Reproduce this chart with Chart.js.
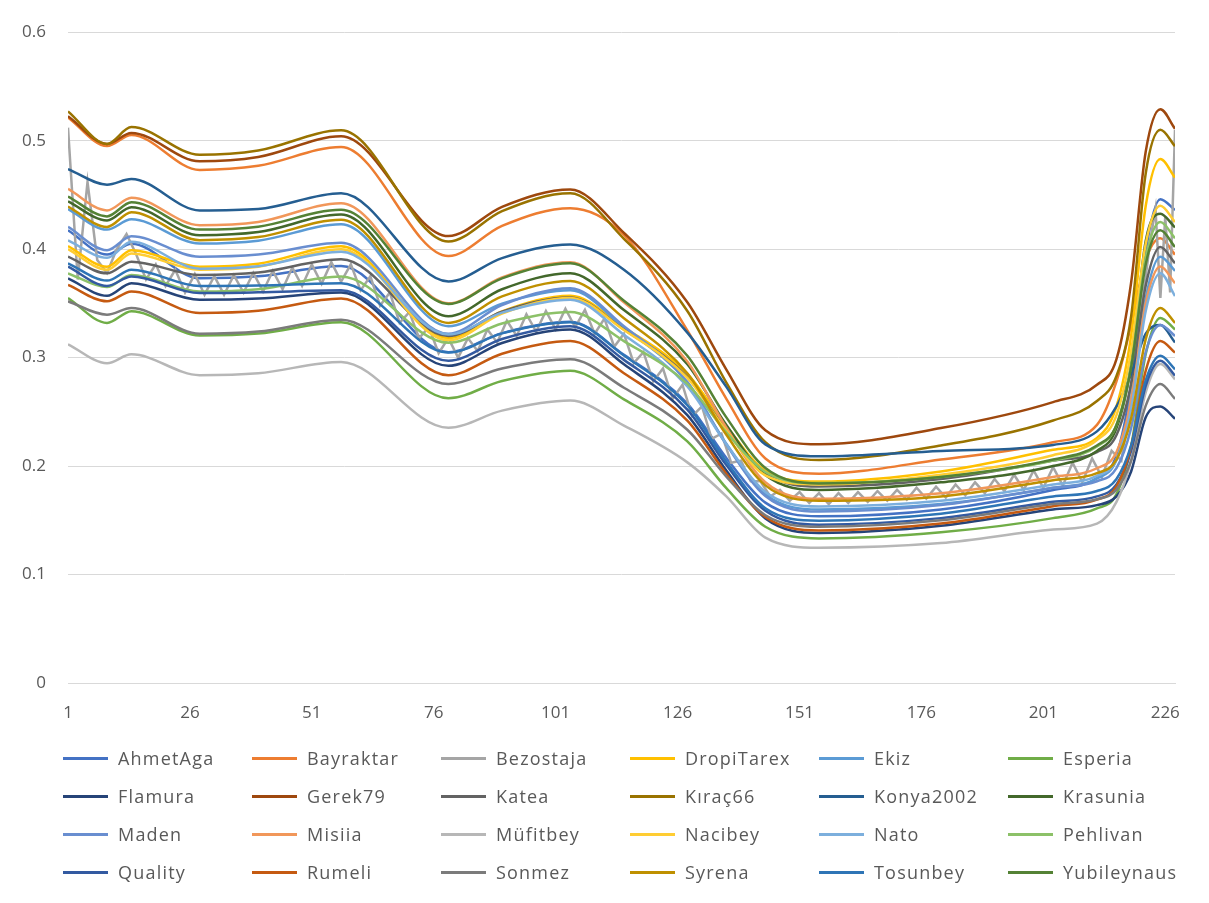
<!DOCTYPE html>
<html>
<head>
<meta charset="utf-8">
<script src="https://cdn.jsdelivr.net/npm/chart.js@4/dist/chart.umd.min.js"></script>
<style>
  body { margin: 0; background: #fff; }
  #wrap { position: relative; width: 1209px; height: 903px; }
  #chart { position: absolute; left: 0; top: 0; }
  .legend-item { position: absolute; height: 24px; display: flex; align-items: center;
    font-family: "Open Sans", "Noto Sans", sans-serif; font-size: 18px; letter-spacing: 1.2px; color: #595959; white-space: nowrap; }
  .legend-swatch { display: inline-block; width: 45px; height: 3px; margin-right: 10px; }
</style>
</head>
<body>
<div id="wrap">
  <canvas id="chart" width="1209" height="903"></canvas>
  <div id="chartLegend"></div>
</div>
<script>
const knots = [1, 9, 14, 28, 40, 57, 79, 90, 104, 115, 128, 136, 144, 155, 180, 203, 212, 216, 219, 222, 225, 228];

const ahmetAga = [.4174, .395, .405, .3732, .375, .3844, .305, .3226, .333, .3025, .2577, .2075, .1663, .1537, .160, .178, .189, .210, .275, .398, .446, .436];
const bayraktar = [.5215, .495, .5052, .473, .4768, .4942, .3936, .4214, .4378, .413, .325, .262, .207, .193, .206, .222, .238, .278, .330, .390, .410, .395];
const dropiTarex = [.4027, .3838, .399, .3838, .3866, .4027, .318, .3426, .357, .3278, .2849, .237, .1957, .1857, .195, .215, .226, .255, .320, .440, .483, .466];
const ekiz = [.437, .418, .4275, .4052, .4078, .4229, .329, .3498, .362, .3277, .2772, .2206, .1741, .160, .165, .180, .1885, .2056, .2567, .3547, .393, .380];
const esperia = [.3549, .332, .3427, .3204, .3222, .3326, .2625, .2784, .2878, .2615, .2228, .1796, .1441, .1333, .139, .152, .161, .1741, .2184, .3034, .3366, .326];
const flamura = [.373, .357, .3686, .3533, .3544, .3601, .2924, .3135, .326, .2938, .2469, .1958, .1517, .1384, .145, .160, .164, .172, .195, .245, .255, .2436];
const gerek79 = [.5225, .497, .507, .481, .485, .504, .412, .439, .455, .415, .351, .289, .233, .220, .235, .259, .275, .2985, .369, .490, .529, .511];
const katea = [.393, .3777, .3884, .3762, .3784, .3906, .320, .3424, .3555, .3259, .2822, .2334, .1933, .1811, .188, .205, .2129, .2286, .2759, .3665, .402, .387];
const kirac66 = [.527, .497, .5125, .487, .491, .5095, .407, .435, .4515, .4095, .343, .277, .222, .2055, .219, .242, .260, .283, .338, .470, .510, .495];
const konya2002 = [.4738, .4594, .4646, .4357, .437, .4515, .3702, .3917, .4043, .381, .323, .273, .220, .209, .214, .2195, .232, .255, .285, .322, .330, .314];
const krasunia = [.444, .4265, .4387, .4128, .4157, .432, .3381, .363, .3777, .3438, .2938, .2378, .1917, .178, .185, .200, .214, .235, .293, .4077, .4326, .420];
const maden = [.4205, .399, .4119, .393, .395, .4058, .322, .3485, .364, .329, .2775, .2198, .1724, .158, .164, .180, .186, .198, .235, .305, .330, .320];
const misiia = [.4555, .4357, .4473, .422, .425, .4424, .350, .3739, .388, .3509, .2964, .2353, .1851, .1698, .175, .190, .198, .213, .260, .350, .384, .3686];
const mufitbey = [.3122, .2948, .303, .2838, .2856, .296, .2353, .2511, .2604, .2373, .2034, .172, .134, .1247, .129, .1415, .147, .167, .205, .268, .294, .280];
const nacibey = [.400, .381, .396, .381, .3838, .400, .316, .3406, .355, .3254, .2813, .2325, .1915, .183, .192, .210, .224, .247, .306, .405, .440, .425];
const nato = [.408, .392, .4067, .382, .3843, .3976, .3213, .3415, .3534, .321, .2734, .2202, .1762, .1628, .168, .183, .191, .206, .253, .343, .3777, .3567];
const pehlivan = [.3777, .365, .3762, .361, .3631, .3747, .3137, .3315, .342, .3152, .2757, .231, .1945, .1843, .190, .205, .218, .238, .293, .392, .425, .410];
const quality = [.3838, .366, .3747, .3595, .3602, .362, .297, .3172, .329, .2979, .2521, .2009, .1588, .146, .152, .167, .172, .183, .214, .274, .297, .2835];
const rumeli = [.367, .3519, .361, .3412, .3432, .3545, .2838, .3036, .3153, .2856, .2419, .1929, .1531, .1406, .147, .163, .169, .1813, .2178, .288, .3153, .3046];
const sonmez = [.3519, .3396, .3457, .322, .324, .335, .2756, .290, .2985, .2722, .2335, .1903, .1547, .144, .150, .165, .1694, .1783, .2049, .2557, .2756, .2619];
const syrena = [.4393, .4205, .4341, .4083, .4111, .4271, .332, .3564, .3707, .3362, .2856, .2288, .1822, .168, .172, .187, .1934, .206, .244, .317, .3457, .332];
const tosunbey = [.3869, .371, .381, .366, .3664, .3686, .3046, .3223, .3326, .3019, .2561, .204, .1611, .1497, .156, .172, .177, .188, .219, .279, .3016, .2893];
const yubileynaus = [.4485, .4302, .4433, .418, .4207, .4363, .3495, .3731, .387, .3525, .3017, .2449, .1982, .184, .190, .206, .219, .238, .291, .386, .4173, .402];

// Bezostaja is the jagged one, so it gets its own denser x list
const bezostajaX = [1, 3, 5, 7, 9, 11, 13, 15, 17, 19, 21, 23, 25, 27, 29, 31, 33, 35, 37, 39, 41, 43, 45, 47, 49, 51, 53, 55, 57, 59,
  61, 63, 65, 67, 69, 71, 73, 75, 77, 79, 81, 83, 85, 87, 89, 91, 93, 95, 97, 99, 101, 103, 105, 107, 109, 111, 113, 115, 117, 119,
  121, 123, 125, 127, 129, 131, 133, 135, 137, 139, 141, 143, 145, 147, 149, 151, 153, 155, 157, 159, 161, 163, 165, 167, 169, 171, 173, 175, 177, 179,
  181, 183, 185, 187, 189, 191, 193, 195, 197, 199, 201, 203, 205, 207, 209, 211, 213, 215, 217, 219, 221, 223, 224, 225, 226, 227, 228];
const bezostaja = [.512, .372, .462, .390, .378, .400, .414, .395, .372, .386, .366, .381, .360, .377, .358, .375, .358, .376, .360, .378, .361, .380, .363, .383, .366, .386, .368, .388, .370, .386,
  .362, .375, .348, .360, .332, .342, .318, .328, .304, .318, .300, .318, .306, .326, .314, .334, .320, .340, .324, .343, .326, .345, .328, .344, .322, .336, .310, .322, .295, .305,
  .278, .290, .262, .275, .246, .255, .225, .230, .203, .205, .186, .186, .172, .178, .168, .176, .166, .175, .165, .175, .166, .176, .167, .177, .168, .178, .169, .180, .170, .181,
  .171, .183, .173, .185, .175, .188, .177, .192, .178, .196, .180, .199, .182, .203, .185, .207, .190, .214, .205, .265, .340, .410, .437, .355, .430, .360, .510];

const seriesNames = ["AhmetAga", "Bayraktar", "Bezostaja", "DropiTarex", "Ekiz", "Esperia", "Flamura", "Gerek79",
  "Katea", "Kıraç66", "Konya2002", "Krasunia", "Maden", "Misiia", "Müfitbey", "Nacibey", "Nato", "Pehlivan",
  "Quality", "Rumeli", "Sonmez", "Syrena", "Tosunbey", "Yubileynaus"];
const seriesValues = [ahmetAga, bayraktar, bezostaja, dropiTarex, ekiz, esperia, flamura, gerek79,
  katea, kirac66, konya2002, krasunia, maden, misiia, mufitbey, nacibey, nato, pehlivan,
  quality, rumeli, sonmez, syrena, tosunbey, yubileynaus];
const seriesColors = ["#4472C4", "#ED7D31", "#A5A5A5", "#FFC000", "#5B9BD5", "#70AD47", "#264478", "#9E480E",
  "#636363", "#997300", "#255E91", "#43682B", "#698ED0", "#F1975A", "#B7B7B7", "#FFCD33", "#7CAFDD", "#8CC168",
  "#335AA1", "#C55A11", "#7B7B7B", "#BF9000", "#2E75B6", "#548235"];
const xTickLabels = [1, 26, 51, 76, 101, 126, 151, 176, 201, 226];
const yTickLabels = [0, 0.1, 0.2, 0.3, 0.4, 0.5, 0.6];

let datasets = seriesNames.map(function (name, i) {
  let xs = name === "Bezostaja" ? bezostajaX : knots;
  return {
    label: name,
    data: seriesValues[i].map((v, j) => ({ x: xs[j], y: v })),
    borderColor: seriesColors[i],
    backgroundColor: seriesColors[i],
    borderWidth: 2.5,
    pointRadius: 0,
    fill: false,
    cubicInterpolationMode: name === "Bezostaja" ? "default" : "monotone",
    tension: 0,
    order: seriesNames.length - i, // later series sit on top, like Excel
  };
});

let labelFont = { family: "'Open Sans', 'Noto Sans', sans-serif", size: 17 };

new Chart(document.getElementById("chart").getContext("2d"), {
  type: "line",
  data: { datasets: datasets },
  options: {
    responsive: false,
    animation: false,
    devicePixelRatio: 1,
    layout: { padding: { left: 10, right: 34, top: 27, bottom: 175 } },
    plugins: { legend: { display: false }, tooltip: { enabled: false } },
    scales: {
      x: {
        type: "linear",
        min: 1,
        max: 228,
        afterBuildTicks: function (scale) {
          scale.ticks = xTickLabels.map((v) => ({ value: v }));
        },
        afterFit: function (scale) { scale.height = 45; },
        grid: { display: false, drawTicks: false },
        border: { display: true, color: "#D9D9D9", width: 1 },
        ticks: { color: "#595959", font: labelFont, padding: 20, autoSkip: false, maxRotation: 0,
          callback: (v) => String(v) },
      },
      y: {
        min: 0,
        max: 0.6,
        afterBuildTicks: function (scale) {
          scale.ticks = yTickLabels.map((v) => ({ value: v }));
        },
        afterFit: function (scale) { scale.width = 58; },
        grid: { color: "#D9D9D9", lineWidth: 1, drawTicks: false },
        border: { display: false },
        ticks: { color: "#595959", font: labelFont, padding: 22,
          callback: (v) => (v === 0 ? "0" : v.toFixed(1)) },
      },
    },
  },
});

// html legend, 6 columns x 4 rows like the original
let legendRows = [758, 796, 834, 872];
let html = [];
seriesNames.forEach(function (name, i) {
  let col = i % 6;
  let row = Math.floor(i / 6);
  html.push('<div class="legend-item" style="left:' + (63 + col * 189) + 'px;top:' + (legendRows[row] - 12) + 'px">' +
    '<span class="legend-swatch" style="background-color:' + seriesColors[i] + '"></span>' + name + '</div>');
});
document.getElementById("chartLegend").innerHTML = html.join("");
</script>
</body>
</html>
